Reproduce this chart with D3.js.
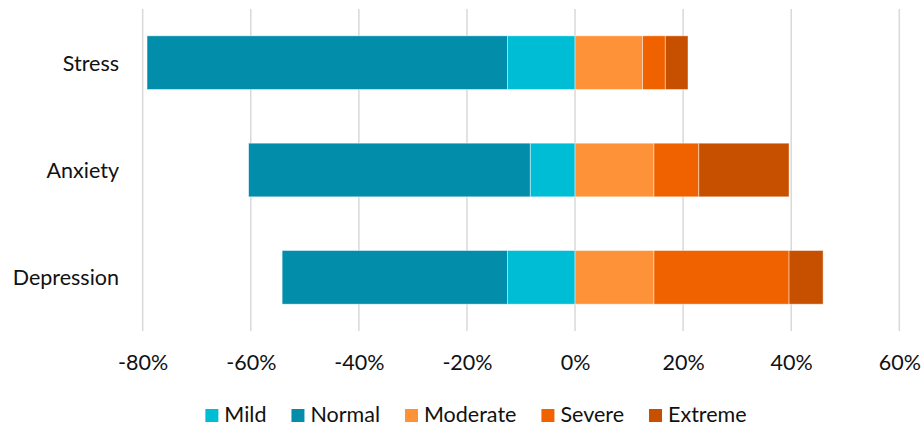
<!DOCTYPE html>
<html>
<head>
<meta charset="utf-8">
<script src="https://cdn.jsdelivr.net/npm/d3@7"></script>
<style>
  html, body { margin: 0; padding: 0; background: #fff; }
  svg { display: block; font-family: Lato, "Noto Sans", sans-serif; }
</style>
</head>
<body>
<svg id="chart" width="923" height="428"></svg>
<script>
// Scale categories (top to bottom)
const categories = ["Stress", "Anxiety", "Depression"];

// Share of respondents per severity level, in percent
const mild     = [12.5,  8.3, 12.5];
const normal   = [66.7, 52.1, 41.7];
const moderate = [12.5, 14.6, 14.6];
const severe   = [ 4.2,  8.3, 25.0];
const extreme  = [ 4.2, 16.7,  6.3];

// Axis ticks, in percent
const xTicks = [-80, -60, -40, -20, 0, 20, 40, 60];

// Legend order
const legendKeys = ["Mild", "Normal", "Moderate", "Severe", "Extreme"];

const colors = {
  Mild: "#00BDD6",
  Normal: "#028DAB",
  Moderate: "#FE9239",
  Severe: "#F06100",
  Extreme: "#C75000"
};

const FONT_SIZE = "21.5px";

// Mild and Normal run to the left of zero, the rest to the right
const rows = categories.map((c, i) => ({
  category: c,
  Mild: -mild[i],
  Normal: -normal[i],
  Moderate: moderate[i],
  Severe: severe[i],
  Extreme: extreme[i]
}));

const svg = d3.select("#chart");

const x = d3.scaleLinear().domain([-80, 60]).range([142.7, 899.3]);
const y = d3.scaleBand().domain(categories).range([9, 331])
  .paddingInner(0.5).paddingOuter(0.25);

// Vertical gridlines
svg.append("g")
  .selectAll("line")
  .data(xTicks)
  .join("line")
  .attr("x1", d => x(d)).attr("x2", d => x(d))
  .attr("y1", 9).attr("y2", 331)
  .attr("stroke", "#d9d9d9")
  .attr("stroke-width", 1.5);

const stack = d3.stack()
  .keys(["Mild", "Normal", "Moderate", "Severe", "Extreme"])
  .offset(d3.stackOffsetDiverging);
const series = stack(rows);

svg.append("g")
  .selectAll("g")
  .data(series)
  .join("g")
  .attr("fill", s => colors[s.key])
  .selectAll("rect")
  .data(s => s)
  .join("rect")
  .attr("x", d => x(Math.min(d[0], d[1])))
  .attr("width", d => Math.abs(x(d[1]) - x(d[0])))
  .attr("y", d => y(d.data.category))
  .attr("height", y.bandwidth())
  .attr("stroke", "#fff")
  .attr("stroke-opacity", 0.55)
  .attr("stroke-width", 0.8);

// X axis labels
const fmt = d => (d < 0 ? "-" : "") + Math.abs(d) + "%";
const xAxis = svg.append("g")
  .attr("transform", "translate(0,352)")
  .call(d3.axisBottom(x).tickValues(xTicks).tickFormat(fmt).tickSize(0).tickPadding(0));
xAxis.select(".domain").remove();
xAxis.selectAll("text")
  .attr("dy", null)
  .attr("y", 17.5)
  .attr("fill", "#111")
  .style("font-family", "Lato, 'Noto Sans', sans-serif")
  .style("font-size", FONT_SIZE);

// Category labels
const yAxis = svg.append("g")
  .attr("transform", "translate(119,0)")
  .call(d3.axisLeft(y).tickSize(0).tickPadding(0));
yAxis.select(".domain").remove();
yAxis.selectAll("text")
  .attr("dy", null)
  .attr("y", 8)
  .attr("fill", "#111")
  .style("font-family", "Lato, 'Noto Sans', sans-serif")
  .style("font-size", FONT_SIZE);

// Legend
const legend = svg.append("g").attr("transform", "translate(0,422)");
const items = legend.selectAll("g")
  .data(legendKeys)
  .join("g");
items.append("rect")
  .attr("y", -13).attr("width", 13).attr("height", 13)
  .attr("fill", d => colors[d]);
items.append("text")
  .attr("x", 19)
  .attr("fill", "#111")
  .style("font-size", FONT_SIZE)
  .text(d => d);

let cursor = 0;
const offsets = [];
items.each(function () {
  const w = d3.select(this).select("text").node().getComputedTextLength();
  offsets.push(cursor);
  cursor += 19 + w + 25;
});
const total = cursor - 25;
const start = 476 - total / 2;
items.attr("transform", (d, i) => `translate(${start + offsets[i]},0)`);
</script>
</body>
</html>
